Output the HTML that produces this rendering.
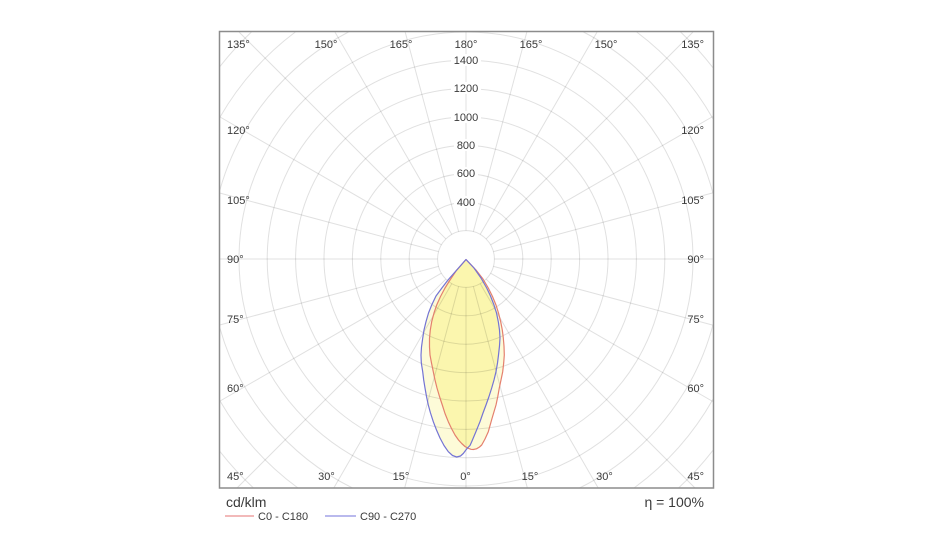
<!DOCTYPE html>
<html><head><meta charset="utf-8">
<style>
html,body{margin:0;padding:0;background:#fff;width:933px;height:560px;overflow:hidden;}
svg{display:block;}
text{font-family:"Liberation Sans",Arial,sans-serif;fill:#3a3a3a;}
</style></head>
<body>
<svg width="933" height="560" viewBox="0 0 933 560" xmlns="http://www.w3.org/2000/svg">
<defs>
<clipPath id="blueclip"><path d="M466,259.5 L455,272 L448,280 L441.7,288.3 L436,296 L431.7,305 L428.5,313 L426,321.7 L424,330 L422.7,338.3 L421.5,347 L421,355 L421.3,363 L422.7,371.7 L423.7,380 L425,388 L426.5,396.5 L428.3,405 L430.5,413 L433.3,421.7 L436.5,430 L440,438 L444,445.5 L448.3,451.7 L452.5,455.5 L456.7,457 L460.5,456 L463.3,453.5 L465.5,450.5 L467.5,448 L470,445.5 L471.7,441.7 L476,431.5 L480,421.7 L483,413 L486,405 L489,396.5 L491.7,388 L494,380 L496,371.7 L497.5,363 L498.5,355 L499.5,346 L500,338 L499.5,330 L498.3,321.7 L496.5,313 L494,305 L490.5,296 L486.7,288 L481,278 L474,268 Z"/></clipPath>
</defs>
<rect width="933" height="560" fill="#fff"/>

<!-- fills -->
<path d="M466,259.5 L455,272 L448,280 L441.7,288.3 L436,296 L431.7,305 L428.5,313 L426,321.7 L424,330 L422.7,338.3 L421.5,347 L421,355 L421.3,363 L422.7,371.7 L423.7,380 L425,388 L426.5,396.5 L428.3,405 L430.5,413 L433.3,421.7 L436.5,430 L440,438 L444,445.5 L448.3,451.7 L452.5,455.5 L456.7,457 L460.5,456 L463.3,453.5 L465.5,450.5 L467.5,448 L470,445.5 L471.7,441.7 L476,431.5 L480,421.7 L483,413 L486,405 L489,396.5 L491.7,388 L494,380 L496,371.7 L497.5,363 L498.5,355 L499.5,346 L500,338 L499.5,330 L498.3,321.7 L496.5,313 L494,305 L490.5,296 L486.7,288 L481,278 L474,268 Z" fill="#fdfbd8"/>
<path d="M466,259.5 L456,271 L450,280 L445,288 L440.5,296.5 L436.7,305 L434,313 L431.7,321.7 L430.3,330 L429.5,338.3 L429.5,347 L430,355 L431.5,363 L433.3,371.7 L435,380 L437,388 L439.5,396.5 L442.3,405 L445,413.5 L448.3,421.7 L451.5,428.5 L455,435 L458.5,440 L461.7,443.5 L465,446.5 L468.3,448.3 L471,449.3 L473.3,449.5 L476.5,448.8 L479.5,447 L481.7,445 L485,439 L488.3,431.7 L492,418.5 L496,405 L497.8,396.5 L499.3,388 L501,380 L502.7,371.7 L503.7,363 L504.3,355 L504,346 L503.3,338 L502.3,330 L500.7,321.7 L498.5,313 L496,305 L492.5,296.5 L488.3,288 L483,279 L476,270 Z" fill="#fdfbd8"/>
<g clip-path="url(#blueclip)">
  <path d="M466,259.5 L456,271 L450,280 L445,288 L440.5,296.5 L436.7,305 L434,313 L431.7,321.7 L430.3,330 L429.5,338.3 L429.5,347 L430,355 L431.5,363 L433.3,371.7 L435,380 L437,388 L439.5,396.5 L442.3,405 L445,413.5 L448.3,421.7 L451.5,428.5 L455,435 L458.5,440 L461.7,443.5 L465,446.5 L468.3,448.3 L471,449.3 L473.3,449.5 L476.5,448.8 L479.5,447 L481.7,445 L485,439 L488.3,431.7 L492,418.5 L496,405 L497.8,396.5 L499.3,388 L501,380 L502.7,371.7 L503.7,363 L504.3,355 L504,346 L503.3,338 L502.3,330 L500.7,321.7 L498.5,313 L496,305 L492.5,296.5 L488.3,288 L483,279 L476,270 Z" fill="#fbf6ae"/>
</g>

<!-- grid -->
<g fill="none" stroke="rgba(0,0,0,0.12)" stroke-width="1">
  <circle cx="466" cy="259" r="28.4"/>
  <circle cx="466" cy="259" r="56.8"/>
  <circle cx="466" cy="259" r="85.2"/>
  <circle cx="466" cy="259" r="113.6"/>
  <circle cx="466" cy="259" r="142"/>
  <circle cx="466" cy="259" r="170.4"/>
  <circle cx="466" cy="259" r="198.8"/>
  <circle cx="466" cy="259" r="227"/>
  <!-- r=255.6 -->
  <path d="M348.5,32 A255.6,255.6 0 0 0 220,189.6 M220,328.4 A255.6,255.6 0 0 0 352.5,488 M579.5,488 A255.6,255.6 0 0 0 713,324.7 M713,193.3 A255.6,255.6 0 0 0 583.5,32"/>
  <!-- r=284 -->
  <path d="M295.3,32 A284,284 0 0 0 220,117.1 M220,400.9 A284,284 0 0 0 298,488 M634,488 A284,284 0 0 0 713,399.2 M713,118.8 A284,284 0 0 0 636.7,32"/>
  <!-- r=312.4 -->
  <path d="M251.4,32 A312.4,312.4 0 0 0 220,66.4 M220,451.6 A312.4,312.4 0 0 0 253.5,488 M678.5,488 A312.4,312.4 0 0 0 713,450.3 M713,67.7 A312.4,312.4 0 0 0 680.6,32"/>
  <g transform="translate(466,259)">
    <line x1="0" y1="28.4" x2="0" y2="229" transform="rotate(0)"/>
    <line x1="0" y1="28.4" x2="0" y2="237" transform="rotate(15)"/>
    <line x1="0" y1="28.4" x2="0" y2="264" transform="rotate(30)"/>
    <line x1="0" y1="28.4" x2="0" y2="324" transform="rotate(45)"/>
    <line x1="0" y1="28.4" x2="0" y2="284" transform="rotate(60)"/>
    <line x1="0" y1="28.4" x2="0" y2="254.5" transform="rotate(75)"/>
    <line x1="0" y1="28.4" x2="0" y2="246" transform="rotate(90)"/>
    <line x1="0" y1="28.4" x2="0" y2="254.5" transform="rotate(105)"/>
    <line x1="0" y1="28.4" x2="0" y2="284" transform="rotate(120)"/>
    <line x1="0" y1="28.4" x2="0" y2="321" transform="rotate(135)"/>
    <line x1="0" y1="28.4" x2="0" y2="262" transform="rotate(150)"/>
    <line x1="0" y1="28.4" x2="0" y2="235" transform="rotate(165)"/>
    <line x1="0" y1="28.4" x2="0" y2="227" transform="rotate(180)"/>
    <line x1="0" y1="28.4" x2="0" y2="235" transform="rotate(195)"/>
    <line x1="0" y1="28.4" x2="0" y2="262" transform="rotate(210)"/>
    <line x1="0" y1="28.4" x2="0" y2="321" transform="rotate(225)"/>
    <line x1="0" y1="28.4" x2="0" y2="285" transform="rotate(240)"/>
    <line x1="0" y1="28.4" x2="0" y2="255.5" transform="rotate(255)"/>
    <line x1="0" y1="28.4" x2="0" y2="247" transform="rotate(270)"/>
    <line x1="0" y1="28.4" x2="0" y2="255.5" transform="rotate(285)"/>
    <line x1="0" y1="28.4" x2="0" y2="285" transform="rotate(300)"/>
    <line x1="0" y1="28.4" x2="0" y2="324" transform="rotate(315)"/>
    <line x1="0" y1="28.4" x2="0" y2="264" transform="rotate(330)"/>
    <line x1="0" y1="28.4" x2="0" y2="237" transform="rotate(345)"/>
  </g>
</g>

<!-- curves -->
<path d="M466,259.5 L456,271 L450,280 L445,288 L440.5,296.5 L436.7,305 L434,313 L431.7,321.7 L430.3,330 L429.5,338.3 L429.5,347 L430,355 L431.5,363 L433.3,371.7 L435,380 L437,388 L439.5,396.5 L442.3,405 L445,413.5 L448.3,421.7 L451.5,428.5 L455,435 L458.5,440 L461.7,443.5 L465,446.5 L468.3,448.3 L471,449.3 L473.3,449.5 L476.5,448.8 L479.5,447 L481.7,445 L485,439 L488.3,431.7 L492,418.5 L496,405 L497.8,396.5 L499.3,388 L501,380 L502.7,371.7 L503.7,363 L504.3,355 L504,346 L503.3,338 L502.3,330 L500.7,321.7 L498.5,313 L496,305 L492.5,296.5 L488.3,288 L483,279 L476,270 Z" fill="none" stroke="#e4806e" stroke-width="1.2" stroke-linejoin="round"/>
<path d="M466,259.5 L455,272 L448,280 L441.7,288.3 L436,296 L431.7,305 L428.5,313 L426,321.7 L424,330 L422.7,338.3 L421.5,347 L421,355 L421.3,363 L422.7,371.7 L423.7,380 L425,388 L426.5,396.5 L428.3,405 L430.5,413 L433.3,421.7 L436.5,430 L440,438 L444,445.5 L448.3,451.7 L452.5,455.5 L456.7,457 L460.5,456 L463.3,453.5 L465.5,450.5 L467.5,448 L470,445.5 L471.7,441.7 L476,431.5 L480,421.7 L483,413 L486,405 L489,396.5 L491.7,388 L494,380 L496,371.7 L497.5,363 L498.5,355 L499.5,346 L500,338 L499.5,330 L498.3,321.7 L496.5,313 L494,305 L490.5,296 L486.7,288 L481,278 L474,268 Z" fill="none" stroke="#7474d4" stroke-width="1.2" stroke-linejoin="round"/>

<!-- value labels -->
<g font-size="11" text-anchor="middle">
  <rect x="454" y="196" width="24" height="12" fill="#fff"/>
  <text x="466" y="206">400</text>
  <rect x="454" y="167" width="24" height="12" fill="#fff"/>
  <text x="466" y="177">600</text>
  <rect x="454" y="139" width="24" height="12" fill="#fff"/>
  <text x="466" y="149">800</text>
  <rect x="451" y="111" width="30" height="12" fill="#fff"/>
  <text x="466" y="121">1000</text>
  <rect x="451" y="82" width="30" height="12" fill="#fff"/>
  <text x="466" y="92">1200</text>
  <rect x="451" y="54" width="30" height="12" fill="#fff"/>
  <text x="466" y="64">1400</text>
</g>

<!-- angle labels -->
<g font-size="11">
  <text x="227" y="48">135°</text>
  <text x="326" y="48" text-anchor="middle">150°</text>
  <text x="401" y="48" text-anchor="middle">165°</text>
  <text x="466" y="48" text-anchor="middle">180°</text>
  <text x="531" y="48" text-anchor="middle">165°</text>
  <text x="606" y="48" text-anchor="middle">150°</text>
  <text x="704" y="48" text-anchor="end">135°</text>

  <text x="227" y="134">120°</text>
  <text x="227" y="204">105°</text>
  <text x="227" y="263">90°</text>
  <text x="227" y="323">75°</text>
  <text x="227" y="392">60°</text>

  <text x="704" y="134" text-anchor="end">120°</text>
  <text x="704" y="204" text-anchor="end">105°</text>
  <text x="704" y="263" text-anchor="end">90°</text>
  <text x="704" y="323" text-anchor="end">75°</text>
  <text x="704" y="392" text-anchor="end">60°</text>

  <text x="227" y="480">45°</text>
  <text x="326.5" y="480" text-anchor="middle">30°</text>
  <text x="401" y="480" text-anchor="middle">15°</text>
  <text x="465.5" y="480" text-anchor="middle">0°</text>
  <text x="530" y="480" text-anchor="middle">15°</text>
  <text x="604.5" y="480" text-anchor="middle">30°</text>
  <text x="704" y="480" text-anchor="end">45°</text>
</g>

<!-- frame -->
<rect x="219.5" y="31.5" width="494" height="456.5" fill="none" stroke="#8c8c8c" stroke-width="1.5"/>

<!-- legend -->
<text x="226" y="507" font-size="14">cd/klm</text>
<text x="704" y="507" font-size="14" text-anchor="end">η = 100%</text>
<line x1="225" y1="516" x2="254" y2="516" stroke="#ea8f8f" stroke-width="1.2"/>
<text x="258" y="520" font-size="11">C0 - C180</text>
<line x1="325" y1="516" x2="356" y2="516" stroke="#8f8fe2" stroke-width="1.2"/>
<text x="360" y="520" font-size="11">C90 - C270</text>
</svg>
</body></html>
